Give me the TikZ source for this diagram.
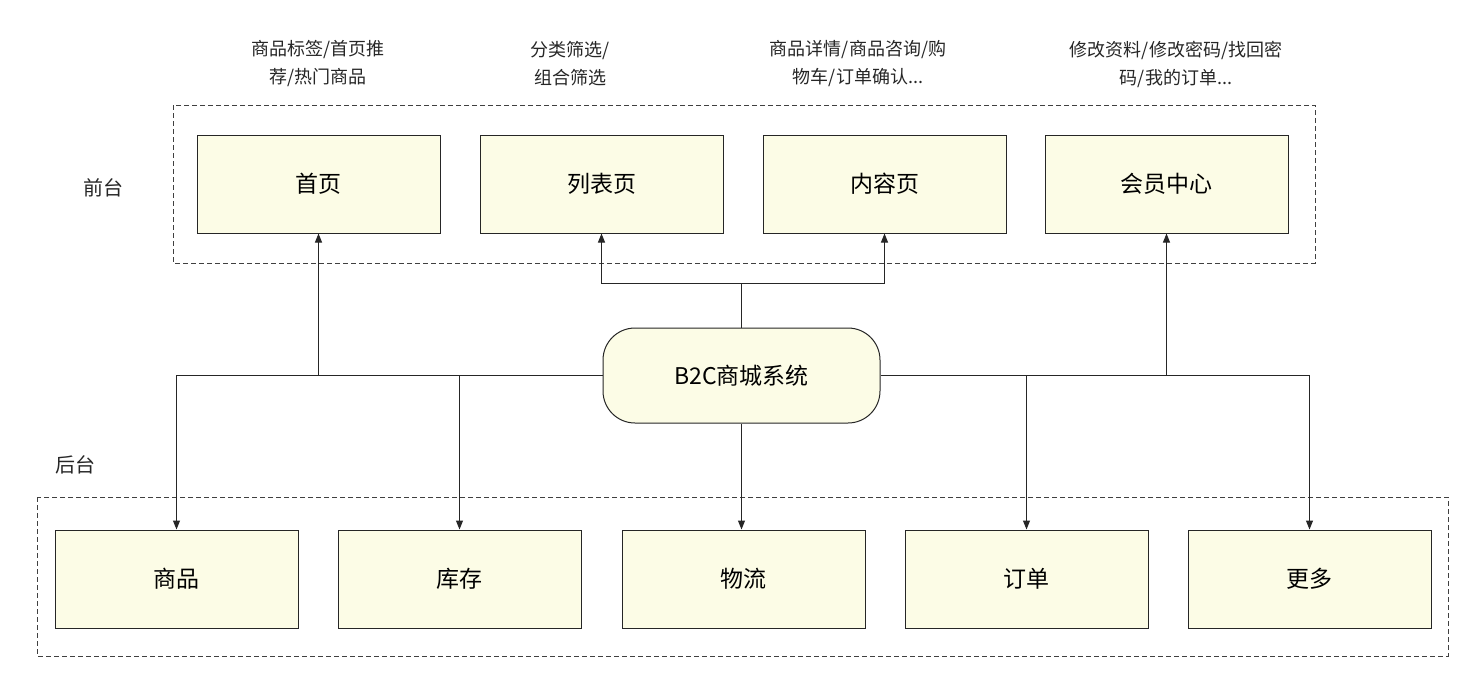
\documentclass[tikz,border=0pt]{standalone}
\usepackage{fontspec}
\setmainfont{Noto Sans CJK SC}
\usetikzlibrary{arrows.meta}
\definecolor{boxfill}{HTML}{FCFCE6}
\begin{document}
\begin{tikzpicture}[x=1pt,y=-1pt,
  box/.style={draw=black!85,line width=1pt,fill=boxfill,minimum width=243pt,minimum height=98pt,inner sep=0pt,font=\fontsize{23}{27}\selectfont},
  lbl/.style={align=center,font=\fontsize{18}{28}\selectfont,text=black!85},
  dbox/.style={draw=black!75,line width=0.8pt,dash pattern=on 5pt off 3pt},
  arr/.style={draw=black!85,line width=1pt,-{Triangle[length=9pt,width=7pt]}},
  ln/.style={draw=black!85,line width=1pt}]
\useasboundingbox (0,0) rectangle (1473,681);
\draw[dbox] (173,105) rectangle (1315,263);
\draw[dbox] (37,497) rectangle (1448,656);
\node[box] (shouye) at (318.5,184) {首页};
\node[box] (liebiao) at (601.5,184) {列表页};
\node[box] (neirong) at (884.5,184) {内容页};
\node[box] (huiyuan) at (1166.5,184) {会员中心};
\node[box] (shangpin) at (176.5,579) {商品};
\node[box] (kucun) at (459.5,579) {库存};
\node[box] (wuliu) at (743.5,579) {物流};
\node[box] (dingdan) at (1026.5,579) {订单};
\node[box] (gengduo) at (1309.5,579) {更多};
\node[box,minimum width=277pt,minimum height=95pt,rounded corners=32pt] (b2c) at (741.5,375.5) {B2C商城系统};
\node[lbl] (l1) at (318,64) {商品标签/首页推\\荐/热门商品};
\node[lbl] (l2) at (570,64) {分类筛选/\\组合筛选};
\node[lbl] (l3) at (858,64) {商品详情/商品咨询/购\\物车/订单确认...};
\node[lbl] (l4) at (1176,64) {修改资料/修改密码/找回密\\码/我的订单...};
\node[lbl,font=\fontsize{20}{24}\selectfont] (qt) at (103,188) {前台};
\node[lbl,font=\fontsize{20}{24}\selectfont] (ht) at (75,465) {后台};
\coordinate (jl) at (shouye.south|-b2c.west);
\coordinate (jk) at (kucun.north|-b2c.west);
\coordinate (jh) at (huiyuan.south|-b2c.east);
\coordinate (jd) at (dingdan.north|-b2c.east);
\coordinate (jt) at (741.5,283);
\draw[arr] (b2c.west) -| (shangpin.north);
\draw[arr] (jl) -- (shouye.south);
\draw[arr] (jk) -- (kucun.north);
\draw[arr] (b2c.east) -| (gengduo.north);
\draw[arr] (jh) -- (huiyuan.south);
\draw[arr] (jd) -- (dingdan.north);
\draw[ln] (b2c.north) -- (jt);
\draw[arr] (jt) -| (liebiao.south);
\draw[arr] (jt) -| (neirong.south);
\draw[arr] (b2c.south) -- (b2c.south|-wuliu.north);
\end{tikzpicture}
\end{document}
